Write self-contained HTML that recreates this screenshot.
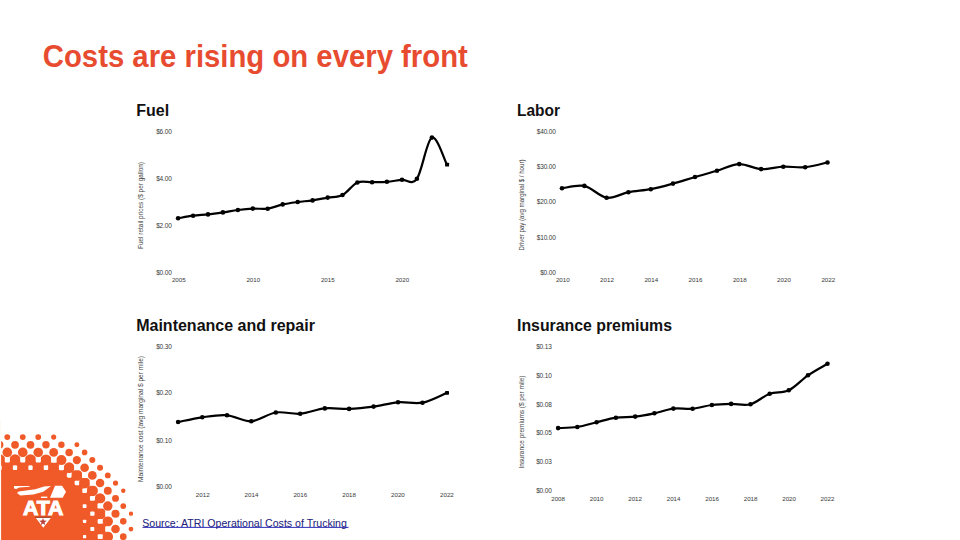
<!DOCTYPE html>
<html><head><meta charset="utf-8"><style>
html,body{margin:0;padding:0;background:#fff;}
body{width:960px;height:540px;overflow:hidden;position:relative;font-family:"Liberation Sans",sans-serif;}
svg{position:absolute;left:0;top:0;}
text{font-family:"Liberation Sans",sans-serif;}
</style></head><body>
<svg width="960" height="540" viewBox="0 0 960 540">
<text x="42.8" y="67.4" font-size="31.2" font-weight="bold" fill="#E84C30" textLength="425" lengthAdjust="spacingAndGlyphs">Costs are rising on every front</text>
<text x="136.2" y="115.8" font-size="16" font-weight="bold" fill="#111">Fuel</text>
<text x="517" y="115.8" font-size="16" font-weight="bold" fill="#111" textLength="43" lengthAdjust="spacingAndGlyphs">Labor</text>
<text x="136.2" y="330.8" font-size="16" font-weight="bold" fill="#111">Maintenance and repair</text>
<text x="517" y="330.8" font-size="16" font-weight="bold" fill="#111" textLength="155" lengthAdjust="spacingAndGlyphs">Insurance premiums</text>
<text x="171.7" y="134.0" text-anchor="end" font-size="6.5" fill="#383838" letter-spacing="-0.15">$6.00</text><text x="171.7" y="180.6" text-anchor="end" font-size="6.5" fill="#383838" letter-spacing="-0.15">$4.00</text><text x="171.7" y="227.7" text-anchor="end" font-size="6.5" fill="#383838" letter-spacing="-0.15">$2.00</text><text x="171.7" y="274.6" text-anchor="end" font-size="6.5" fill="#383838" letter-spacing="-0.15">$0.00</text><text x="178.8" y="282.2" text-anchor="middle" font-size="6.2" fill="#383838">2005</text><text x="253.3" y="282.2" text-anchor="middle" font-size="6.2" fill="#383838">2010</text><text x="327.8" y="282.2" text-anchor="middle" font-size="6.2" fill="#383838">2015</text><text x="402.3" y="282.2" text-anchor="middle" font-size="6.2" fill="#383838">2020</text><text transform="translate(142.8,205.5) rotate(-90)" text-anchor="middle" font-size="6.5" fill="#444" textLength="87" lengthAdjust="spacingAndGlyphs">Fuel retail prices ($ per gallon)</text><path d="M178.10,218.30 C180.60,217.87 188.12,216.35 193.10,215.70 C198.08,215.05 203.03,214.95 208.00,214.40 C212.97,213.85 217.92,213.13 222.90,212.40 C227.88,211.67 232.92,210.63 237.90,210.00 C242.88,209.37 247.83,208.82 252.80,208.60 C257.77,208.38 262.72,209.40 267.70,208.70 C272.68,208.00 277.70,205.52 282.70,204.40 C287.70,203.28 292.72,202.67 297.70,202.00 C302.68,201.33 307.60,201.13 312.60,200.40 C317.60,199.67 322.72,198.50 327.70,197.60 C332.68,196.70 337.55,197.52 342.50,195.00 C347.45,192.48 352.47,184.63 357.40,182.50 C362.33,180.37 367.18,182.32 372.10,182.20 C377.02,182.08 381.92,182.20 386.90,181.80 C391.88,181.40 397.00,180.30 402.00,179.80 C407.00,179.30 411.92,185.83 416.90,178.80 C421.88,171.77 426.90,139.97 431.90,137.60 C436.90,135.23 444.40,160.10 446.90,164.60" fill="none" stroke="#000" stroke-width="2.2" stroke-linejoin="round" stroke-linecap="round"/><circle cx="178.1" cy="218.3" r="2.3"/><circle cx="193.1" cy="215.7" r="2.3"/><circle cx="208.0" cy="214.4" r="2.3"/><circle cx="222.9" cy="212.4" r="2.3"/><circle cx="237.9" cy="210.0" r="2.3"/><circle cx="252.8" cy="208.6" r="2.3"/><circle cx="267.7" cy="208.7" r="2.3"/><circle cx="282.7" cy="204.4" r="2.3"/><circle cx="297.7" cy="202.0" r="2.3"/><circle cx="312.6" cy="200.4" r="2.3"/><circle cx="327.7" cy="197.6" r="2.3"/><circle cx="342.5" cy="195.0" r="2.3"/><circle cx="357.4" cy="182.5" r="2.3"/><circle cx="372.1" cy="182.2" r="2.3"/><circle cx="386.9" cy="181.8" r="2.3"/><circle cx="402.0" cy="179.8" r="2.3"/><circle cx="416.9" cy="178.8" r="2.3"/><circle cx="431.9" cy="137.6" r="2.3"/><rect x="445.1" y="162.7" width="4" height="3.9" rx="0.6"/><text x="555.7" y="134.0" text-anchor="end" font-size="6.5" fill="#383838" letter-spacing="-0.15">$40.00</text><text x="555.7" y="168.8" text-anchor="end" font-size="6.5" fill="#383838" letter-spacing="-0.15">$30.00</text><text x="555.7" y="204.3" text-anchor="end" font-size="6.5" fill="#383838" letter-spacing="-0.15">$20.00</text><text x="555.7" y="239.8" text-anchor="end" font-size="6.5" fill="#383838" letter-spacing="-0.15">$10.00</text><text x="555.7" y="274.8" text-anchor="end" font-size="6.5" fill="#383838" letter-spacing="-0.15">$0.00</text><text x="562.8" y="282.2" text-anchor="middle" font-size="6.2" fill="#383838">2010</text><text x="607.0" y="282.2" text-anchor="middle" font-size="6.2" fill="#383838">2012</text><text x="651.3" y="282.2" text-anchor="middle" font-size="6.2" fill="#383838">2014</text><text x="695.5" y="282.2" text-anchor="middle" font-size="6.2" fill="#383838">2016</text><text x="739.8" y="282.2" text-anchor="middle" font-size="6.2" fill="#383838">2018</text><text x="784.0" y="282.2" text-anchor="middle" font-size="6.2" fill="#383838">2020</text><text x="828.3" y="282.2" text-anchor="middle" font-size="6.2" fill="#383838">2022</text><text transform="translate(524.3,205) rotate(-90)" text-anchor="middle" font-size="6.5" fill="#444" textLength="91" lengthAdjust="spacingAndGlyphs">Driver pay (avg marginal $ / hour)</text><path d="M562.00,188.30 C565.73,187.90 576.97,184.33 584.40,185.90 C591.83,187.47 599.27,196.65 606.60,197.70 C613.93,198.75 621.03,193.62 628.40,192.20 C635.77,190.78 643.37,190.63 650.80,189.20 C658.23,187.77 665.63,185.63 673.00,183.60 C680.37,181.57 687.67,179.13 695.00,177.00 C702.33,174.87 709.63,172.95 717.00,170.80 C724.37,168.65 731.85,164.38 739.20,164.10 C746.55,163.82 753.75,168.67 761.10,169.10 C768.45,169.53 775.95,167.02 783.30,166.70 C790.65,166.38 797.83,167.90 805.20,167.20 C812.57,166.50 823.78,163.28 827.50,162.50" fill="none" stroke="#000" stroke-width="2.2" stroke-linejoin="round" stroke-linecap="round"/><circle cx="562.0" cy="188.3" r="2.3"/><circle cx="584.4" cy="185.9" r="2.3"/><circle cx="606.6" cy="197.7" r="2.3"/><circle cx="628.4" cy="192.2" r="2.3"/><circle cx="650.8" cy="189.2" r="2.3"/><circle cx="673.0" cy="183.6" r="2.3"/><circle cx="695.0" cy="177.0" r="2.3"/><circle cx="717.0" cy="170.8" r="2.3"/><circle cx="739.2" cy="164.1" r="2.3"/><circle cx="761.1" cy="169.1" r="2.3"/><circle cx="783.3" cy="166.7" r="2.3"/><circle cx="805.2" cy="167.2" r="2.3"/><circle cx="827.5" cy="162.5" r="2.3"/><text x="171.7" y="349.0" text-anchor="end" font-size="6.5" fill="#383838" letter-spacing="-0.15">$0.30</text><text x="171.7" y="395.4" text-anchor="end" font-size="6.5" fill="#383838" letter-spacing="-0.15">$0.20</text><text x="171.7" y="442.8" text-anchor="end" font-size="6.5" fill="#383838" letter-spacing="-0.15">$0.10</text><text x="171.7" y="489.3" text-anchor="end" font-size="6.5" fill="#383838" letter-spacing="-0.15">$0.00</text><text x="202.7" y="496.6" text-anchor="middle" font-size="6.2" fill="#383838">2012</text><text x="251.5" y="496.6" text-anchor="middle" font-size="6.2" fill="#383838">2014</text><text x="300.3" y="496.6" text-anchor="middle" font-size="6.2" fill="#383838">2016</text><text x="349.1" y="496.6" text-anchor="middle" font-size="6.2" fill="#383838">2018</text><text x="397.9" y="496.6" text-anchor="middle" font-size="6.2" fill="#383838">2020</text><text x="446.9" y="496.6" text-anchor="middle" font-size="6.2" fill="#383838">2022</text><text transform="translate(143.3,419) rotate(-90)" text-anchor="middle" font-size="6.5" fill="#444" textLength="126" lengthAdjust="spacingAndGlyphs">Maintenance cost (avg marginal $ per mile)</text><path d="M178.10,422.00 C182.13,421.22 194.15,418.42 202.30,417.30 C210.45,416.18 218.84,414.64 227.00,415.30 C235.16,415.96 243.12,421.72 251.25,421.25 C259.38,420.78 267.64,413.75 275.80,412.50 C283.96,411.25 292.03,414.43 300.20,413.75 C308.37,413.07 316.65,409.21 324.80,408.40 C332.95,407.59 340.97,409.20 349.10,408.90 C357.23,408.60 365.45,407.70 373.60,406.60 C381.75,405.50 389.85,402.95 398.00,402.30 C406.15,401.65 414.33,404.28 422.50,402.70 C430.67,401.12 442.92,394.45 447.00,392.80" fill="none" stroke="#000" stroke-width="2.2" stroke-linejoin="round" stroke-linecap="round"/><circle cx="178.1" cy="422.0" r="2.3"/><circle cx="202.3" cy="417.3" r="2.3"/><circle cx="227.0" cy="415.3" r="2.3"/><circle cx="251.25" cy="421.25" r="2.3"/><circle cx="275.8" cy="412.5" r="2.3"/><circle cx="300.2" cy="413.75" r="2.3"/><circle cx="324.8" cy="408.4" r="2.3"/><circle cx="349.1" cy="408.9" r="2.3"/><circle cx="373.6" cy="406.6" r="2.3"/><circle cx="398.0" cy="402.3" r="2.3"/><circle cx="422.5" cy="402.7" r="2.3"/><rect x="445.1" y="390.9" width="3.9" height="3.8" rx="0.6"/><text x="551.7" y="349.0" text-anchor="end" font-size="6.5" fill="#383838" letter-spacing="-0.15">$0.13</text><text x="551.7" y="377.9" text-anchor="end" font-size="6.5" fill="#383838" letter-spacing="-0.15">$0.10</text><text x="551.7" y="406.8" text-anchor="end" font-size="6.5" fill="#383838" letter-spacing="-0.15">$0.08</text><text x="551.7" y="435.3" text-anchor="end" font-size="6.5" fill="#383838" letter-spacing="-0.15">$0.05</text><text x="551.7" y="464.2" text-anchor="end" font-size="6.5" fill="#383838" letter-spacing="-0.15">$0.03</text><text x="551.7" y="493.1" text-anchor="end" font-size="6.5" fill="#383838" letter-spacing="-0.15">$0.00</text><text x="558.1" y="500.5" text-anchor="middle" font-size="6.2" fill="#383838">2008</text><text x="596.6" y="500.5" text-anchor="middle" font-size="6.2" fill="#383838">2010</text><text x="635.1" y="500.5" text-anchor="middle" font-size="6.2" fill="#383838">2012</text><text x="673.6" y="500.5" text-anchor="middle" font-size="6.2" fill="#383838">2014</text><text x="712.1" y="500.5" text-anchor="middle" font-size="6.2" fill="#383838">2016</text><text x="750.6" y="500.5" text-anchor="middle" font-size="6.2" fill="#383838">2018</text><text x="789.1" y="500.5" text-anchor="middle" font-size="6.2" fill="#383838">2020</text><text x="827.5" y="500.5" text-anchor="middle" font-size="6.2" fill="#383838">2022</text><text transform="translate(524.0,422) rotate(-90)" text-anchor="middle" font-size="6.5" fill="#444" textLength="93" lengthAdjust="spacingAndGlyphs">Insurance premiums ($ per mile)</text><path d="M558.10,428.10 C561.30,427.92 570.88,427.97 577.30,427.00 C583.72,426.03 590.17,423.85 596.60,422.30 C603.03,420.75 609.47,418.65 615.90,417.70 C622.33,416.75 628.78,417.33 635.20,416.60 C641.62,415.87 648.03,414.63 654.40,413.30 C660.77,411.97 667.03,409.37 673.40,408.60 C679.77,407.83 686.18,409.30 692.60,408.70 C699.02,408.10 705.48,405.80 711.90,405.00 C718.32,404.20 724.67,404.03 731.10,403.90 C737.53,403.77 744.07,405.89 750.50,404.20 C756.93,402.51 763.33,396.07 769.70,393.75 C776.08,391.43 782.37,393.38 788.75,390.30 C795.13,387.23 801.54,379.73 808.00,375.30 C814.46,370.88 824.25,365.68 827.50,363.75" fill="none" stroke="#000" stroke-width="2.2" stroke-linejoin="round" stroke-linecap="round"/><circle cx="558.1" cy="428.1" r="2.3"/><circle cx="577.3" cy="427.0" r="2.3"/><circle cx="596.6" cy="422.3" r="2.3"/><circle cx="615.9" cy="417.7" r="2.3"/><circle cx="635.2" cy="416.6" r="2.3"/><circle cx="654.4" cy="413.3" r="2.3"/><circle cx="673.4" cy="408.6" r="2.3"/><circle cx="692.6" cy="408.7" r="2.3"/><circle cx="711.9" cy="405.0" r="2.3"/><circle cx="731.1" cy="403.9" r="2.3"/><circle cx="750.5" cy="404.2" r="2.3"/><circle cx="769.7" cy="393.75" r="2.3"/><circle cx="788.75" cy="390.3" r="2.3"/><circle cx="808.0" cy="375.3" r="2.3"/><circle cx="827.5" cy="363.75" r="2.3"/>
<g fill="#F05A28"><circle cx="-8.16" cy="437.10" r="2.91"/><circle cx="7.30" cy="437.10" r="2.91"/><circle cx="22.76" cy="437.10" r="2.91"/><circle cx="38.22" cy="437.10" r="2.88"/><circle cx="53.68" cy="437.10" r="2.58"/><circle cx="-0.43" cy="444.76" r="3.87"/><circle cx="15.03" cy="444.76" r="3.87"/><circle cx="30.49" cy="444.76" r="3.87"/><circle cx="45.95" cy="444.76" r="3.71"/><circle cx="61.41" cy="444.76" r="3.23"/><circle cx="76.87" cy="444.76" r="2.47"/><circle cx="-8.16" cy="452.42" r="4.83"/><circle cx="7.30" cy="452.42" r="4.83"/><circle cx="22.76" cy="452.42" r="4.83"/><circle cx="38.22" cy="452.42" r="4.79"/><circle cx="53.68" cy="452.42" r="4.44"/><circle cx="69.14" cy="452.42" r="3.76"/><circle cx="84.60" cy="452.42" r="2.80"/><circle cx="-0.43" cy="460.08" r="5.79"/><circle cx="15.03" cy="460.08" r="5.79"/><circle cx="30.49" cy="460.08" r="5.79"/><circle cx="45.95" cy="460.08" r="5.60"/><circle cx="61.41" cy="460.08" r="5.02"/><circle cx="76.87" cy="460.08" r="4.13"/><circle cx="92.33" cy="460.08" r="2.99"/><circle cx="-8.16" cy="467.74" r="6.74"/><circle cx="7.30" cy="467.74" r="6.74"/><circle cx="22.76" cy="467.74" r="6.74"/><circle cx="38.22" cy="467.74" r="6.69"/><circle cx="53.68" cy="467.74" r="6.26"/><circle cx="69.14" cy="467.74" r="5.45"/><circle cx="84.60" cy="467.74" r="4.34"/><circle cx="100.06" cy="467.74" r="3.02"/><circle cx="-0.43" cy="475.40" r="7.20"/><circle cx="15.03" cy="475.40" r="7.20"/><circle cx="30.49" cy="475.40" r="7.20"/><circle cx="45.95" cy="475.40" r="7.20"/><circle cx="61.41" cy="475.40" r="6.76"/><circle cx="76.87" cy="475.40" r="5.70"/><circle cx="92.33" cy="475.40" r="4.38"/><circle cx="107.79" cy="475.40" r="2.90"/><circle cx="-8.16" cy="483.06" r="7.20"/><circle cx="7.30" cy="483.06" r="7.20"/><circle cx="22.76" cy="483.06" r="7.20"/><circle cx="38.22" cy="483.06" r="7.20"/><circle cx="53.68" cy="483.06" r="7.20"/><circle cx="69.14" cy="483.06" r="7.05"/><circle cx="84.60" cy="483.06" r="5.74"/><circle cx="100.06" cy="483.06" r="4.25"/><circle cx="115.52" cy="483.06" r="2.63"/><circle cx="-0.43" cy="490.72" r="7.20"/><circle cx="15.03" cy="490.72" r="7.20"/><circle cx="30.49" cy="490.72" r="7.20"/><circle cx="45.95" cy="490.72" r="7.20"/><circle cx="61.41" cy="490.72" r="7.20"/><circle cx="76.87" cy="490.72" r="7.10"/><circle cx="92.33" cy="490.72" r="5.59"/><circle cx="107.79" cy="490.72" r="3.94"/><circle cx="123.25" cy="490.72" r="2.22"/><circle cx="-8.16" cy="498.38" r="7.20"/><circle cx="7.30" cy="498.38" r="7.20"/><circle cx="22.76" cy="498.38" r="7.20"/><circle cx="38.22" cy="498.38" r="7.20"/><circle cx="53.68" cy="498.38" r="7.20"/><circle cx="69.14" cy="498.38" r="7.20"/><circle cx="84.60" cy="498.38" r="6.92"/><circle cx="100.06" cy="498.38" r="5.24"/><circle cx="115.52" cy="498.38" r="3.48"/><circle cx="-0.43" cy="506.04" r="7.20"/><circle cx="15.03" cy="506.04" r="7.20"/><circle cx="30.49" cy="506.04" r="7.20"/><circle cx="45.95" cy="506.04" r="7.20"/><circle cx="61.41" cy="506.04" r="7.20"/><circle cx="76.87" cy="506.04" r="7.20"/><circle cx="92.33" cy="506.04" r="6.53"/><circle cx="107.79" cy="506.04" r="4.73"/><circle cx="123.25" cy="506.04" r="2.89"/><circle cx="-8.16" cy="513.70" r="7.20"/><circle cx="7.30" cy="513.70" r="7.20"/><circle cx="22.76" cy="513.70" r="7.20"/><circle cx="38.22" cy="513.70" r="7.20"/><circle cx="53.68" cy="513.70" r="7.20"/><circle cx="69.14" cy="513.70" r="7.20"/><circle cx="84.60" cy="513.70" r="7.20"/><circle cx="100.06" cy="513.70" r="5.94"/><circle cx="115.52" cy="513.70" r="4.06"/><circle cx="130.98" cy="513.70" r="2.17"/><circle cx="-0.43" cy="521.36" r="7.20"/><circle cx="15.03" cy="521.36" r="7.20"/><circle cx="30.49" cy="521.36" r="7.20"/><circle cx="45.95" cy="521.36" r="7.20"/><circle cx="61.41" cy="521.36" r="7.20"/><circle cx="76.87" cy="521.36" r="7.20"/><circle cx="92.33" cy="521.36" r="7.10"/><circle cx="107.79" cy="521.36" r="5.19"/><circle cx="123.25" cy="521.36" r="3.28"/><circle cx="-8.16" cy="529.02" r="7.20"/><circle cx="7.30" cy="529.02" r="7.20"/><circle cx="22.76" cy="529.02" r="7.20"/><circle cx="38.22" cy="529.02" r="7.20"/><circle cx="53.68" cy="529.02" r="7.20"/><circle cx="69.14" cy="529.02" r="7.20"/><circle cx="84.60" cy="529.02" r="7.20"/><circle cx="100.06" cy="529.02" r="6.25"/><circle cx="115.52" cy="529.02" r="4.32"/><circle cx="130.98" cy="529.02" r="2.39"/><circle cx="-0.43" cy="536.68" r="7.20"/><circle cx="15.03" cy="536.68" r="7.20"/><circle cx="30.49" cy="536.68" r="7.20"/><circle cx="45.95" cy="536.68" r="7.20"/><circle cx="61.41" cy="536.68" r="7.20"/><circle cx="76.87" cy="536.68" r="7.20"/><circle cx="92.33" cy="536.68" r="7.20"/><circle cx="107.79" cy="536.68" r="5.30"/><circle cx="123.25" cy="536.68" r="3.37"/><circle cx="-8.16" cy="544.34" r="7.20"/><circle cx="7.30" cy="544.34" r="7.20"/><circle cx="22.76" cy="544.34" r="7.20"/><circle cx="38.22" cy="544.34" r="7.20"/><circle cx="53.68" cy="544.34" r="7.20"/><circle cx="69.14" cy="544.34" r="7.20"/><circle cx="84.60" cy="544.34" r="7.20"/><circle cx="100.06" cy="544.34" r="6.27"/><circle cx="115.52" cy="544.34" r="4.34"/><circle cx="130.98" cy="544.34" r="2.40"/><circle cx="-0.43" cy="552.00" r="7.20"/><circle cx="15.03" cy="552.00" r="7.20"/><circle cx="30.49" cy="552.00" r="7.20"/><circle cx="45.95" cy="552.00" r="7.20"/><circle cx="61.41" cy="552.00" r="7.20"/><circle cx="76.87" cy="552.00" r="7.20"/><circle cx="92.33" cy="552.00" r="7.20"/><circle cx="107.79" cy="552.00" r="5.30"/><circle cx="123.25" cy="552.00" r="3.37"/></g><g fill="#fff"><rect x="-10.67" y="457.57" width="5.03" height="5.03" rx="1.01"/><rect x="4.79" y="457.57" width="5.03" height="5.03" rx="1.01"/><rect x="20.25" y="457.57" width="5.03" height="5.03" rx="1.01"/><rect x="35.69" y="457.55" width="5.06" height="5.06" rx="1.01"/><rect x="51.08" y="457.48" width="5.20" height="5.20" rx="1.04"/><rect x="-2.58" y="465.59" width="4.30" height="4.30" rx="0.86"/><rect x="12.88" y="465.59" width="4.30" height="4.30" rx="0.86"/><rect x="28.34" y="465.59" width="4.30" height="4.30" rx="0.86"/><rect x="43.72" y="465.51" width="4.46" height="4.46" rx="0.89"/><rect x="58.94" y="465.27" width="4.94" height="4.94" rx="0.99"/><rect x="74.27" y="465.14" width="5.20" height="5.20" rx="1.04"/><rect x="-9.95" y="473.61" width="3.57" height="3.57" rx="0.71"/><rect x="5.51" y="473.61" width="3.57" height="3.57" rx="0.71"/><rect x="20.97" y="473.61" width="3.57" height="3.57" rx="0.71"/><rect x="36.41" y="473.59" width="3.61" height="3.61" rx="0.72"/><rect x="51.69" y="473.41" width="3.98" height="3.98" rx="0.80"/><rect x="66.81" y="473.07" width="4.66" height="4.66" rx="0.93"/><rect x="82.00" y="472.80" width="5.20" height="5.20" rx="1.04"/><rect x="-1.85" y="481.64" width="2.84" height="2.84" rx="0.57"/><rect x="13.61" y="481.64" width="2.84" height="2.84" rx="0.57"/><rect x="29.07" y="481.64" width="2.84" height="2.84" rx="0.57"/><rect x="44.42" y="481.53" width="3.05" height="3.05" rx="0.61"/><rect x="59.58" y="481.23" width="3.65" height="3.65" rx="0.73"/><rect x="74.60" y="480.79" width="4.54" height="4.54" rx="0.91"/><rect x="89.73" y="480.46" width="5.20" height="5.20" rx="1.04"/><rect x="-9.22" y="489.66" width="2.12" height="2.12" rx="0.42"/><rect x="6.24" y="489.66" width="2.12" height="2.12" rx="0.42"/><rect x="21.70" y="489.66" width="2.12" height="2.12" rx="0.42"/><rect x="37.13" y="489.63" width="2.17" height="2.17" rx="0.43"/><rect x="52.35" y="489.39" width="2.66" height="2.66" rx="0.53"/><rect x="67.39" y="488.97" width="3.51" height="3.51" rx="0.70"/><rect x="82.31" y="488.43" width="4.59" height="4.59" rx="0.92"/><rect x="-1.12" y="497.69" width="1.39" height="1.39" rx="0.28"/><rect x="14.34" y="497.69" width="1.39" height="1.39" rx="0.28"/><rect x="29.80" y="497.69" width="1.39" height="1.39" rx="0.28"/><rect x="45.11" y="497.54" width="1.68" height="1.68" rx="0.34"/><rect x="60.17" y="497.14" width="2.48" height="2.48" rx="0.50"/><rect x="75.09" y="496.60" width="3.56" height="3.56" rx="0.71"/><rect x="89.93" y="495.98" width="4.79" height="4.79" rx="0.96"/><rect x="52.96" y="505.32" width="1.45" height="1.45" rx="0.29"/><rect x="67.87" y="504.77" width="2.54" height="2.54" rx="0.51"/><rect x="82.70" y="504.14" width="3.80" height="3.80" rx="0.76"/><rect x="97.49" y="503.47" width="5.14" height="5.14" rx="1.03"/><rect x="60.65" y="512.94" width="1.52" height="1.52" rx="0.30"/><rect x="75.46" y="512.29" width="2.83" height="2.83" rx="0.57"/><rect x="90.23" y="511.60" width="4.21" height="4.21" rx="0.84"/><rect x="105.19" y="511.10" width="5.20" height="5.20" rx="1.04"/><rect x="68.20" y="520.42" width="1.89" height="1.89" rx="0.38"/><rect x="82.94" y="519.70" width="3.31" height="3.31" rx="0.66"/><rect x="97.68" y="518.98" width="4.75" height="4.75" rx="0.95"/><rect x="60.90" y="528.51" width="1.01" height="1.01" rx="0.20"/><rect x="75.63" y="527.78" width="2.47" height="2.47" rx="0.49"/><rect x="90.36" y="527.05" width="3.94" height="3.94" rx="0.79"/><rect x="105.19" y="526.42" width="5.20" height="5.20" rx="1.04"/><rect x="68.28" y="535.82" width="1.72" height="1.72" rx="0.34"/><rect x="83.00" y="535.08" width="3.19" height="3.19" rx="0.64"/><rect x="97.73" y="534.35" width="4.66" height="4.66" rx="0.93"/><rect x="60.92" y="543.85" width="0.99" height="0.99" rx="0.20"/><rect x="75.64" y="543.11" width="2.46" height="2.46" rx="0.49"/><rect x="90.37" y="542.38" width="3.93" height="3.93" rx="0.79"/><rect x="105.19" y="541.74" width="5.20" height="5.20" rx="1.04"/><rect x="68.28" y="551.14" width="1.72" height="1.72" rx="0.34"/><rect x="83.00" y="550.40" width="3.19" height="3.19" rx="0.64"/><rect x="97.73" y="549.67" width="4.66" height="4.66" rx="0.93"/></g><path fill="#F05A28" d="M-5,471.5 H49 A32,32 0 0 1 81,503.5 V545 H-5 Z"/><g fill="#fff"><polygon points="14,486 29.7,486 29.7,486.8 19.3,487.4 16.3,489 14,488.6"/><polygon points="17,493 18.7,491.6 35.3,489.2 44,486.6 51,486 43.3,491.8 33.3,494.6 20.3,495.4"/><polygon points="55,485.7 62,485.7 66,491.7 62.7,497.7 50,497.7"/><polygon points="41,496.6 47.3,496.6 47.3,498 41,498"/><text x="43.2" y="514.8" text-anchor="middle" font-size="19.5" font-weight="bold" stroke="#fff" stroke-width="1.0" stroke-linejoin="miter" textLength="40.6" lengthAdjust="spacingAndGlyphs">ATA</text><polygon points="35.7,517.7 51,517.7 43.3,527.7"/></g><rect x="0" y="420" width="1.1" height="120" fill="#fdfaf5"/><rect x="35.3" y="516.8" width="15.6" height="0.8" fill="#7a2a20"/><polygon fill="#B8413A" points="43.00,517.90 43.94,520.61 46.80,520.66 44.52,522.39 45.35,525.14 43.00,523.50 40.65,525.14 41.48,522.39 39.20,520.66 42.06,520.61"/>
<text x="142.2" y="526.5" font-size="10.6" fill="#20207a">Source: ATRI Operational Costs of Trucking</text>
<rect x="142.5" y="526.9" width="206" height="0.9" fill="#1818b0"/>
</svg>
</body></html>
